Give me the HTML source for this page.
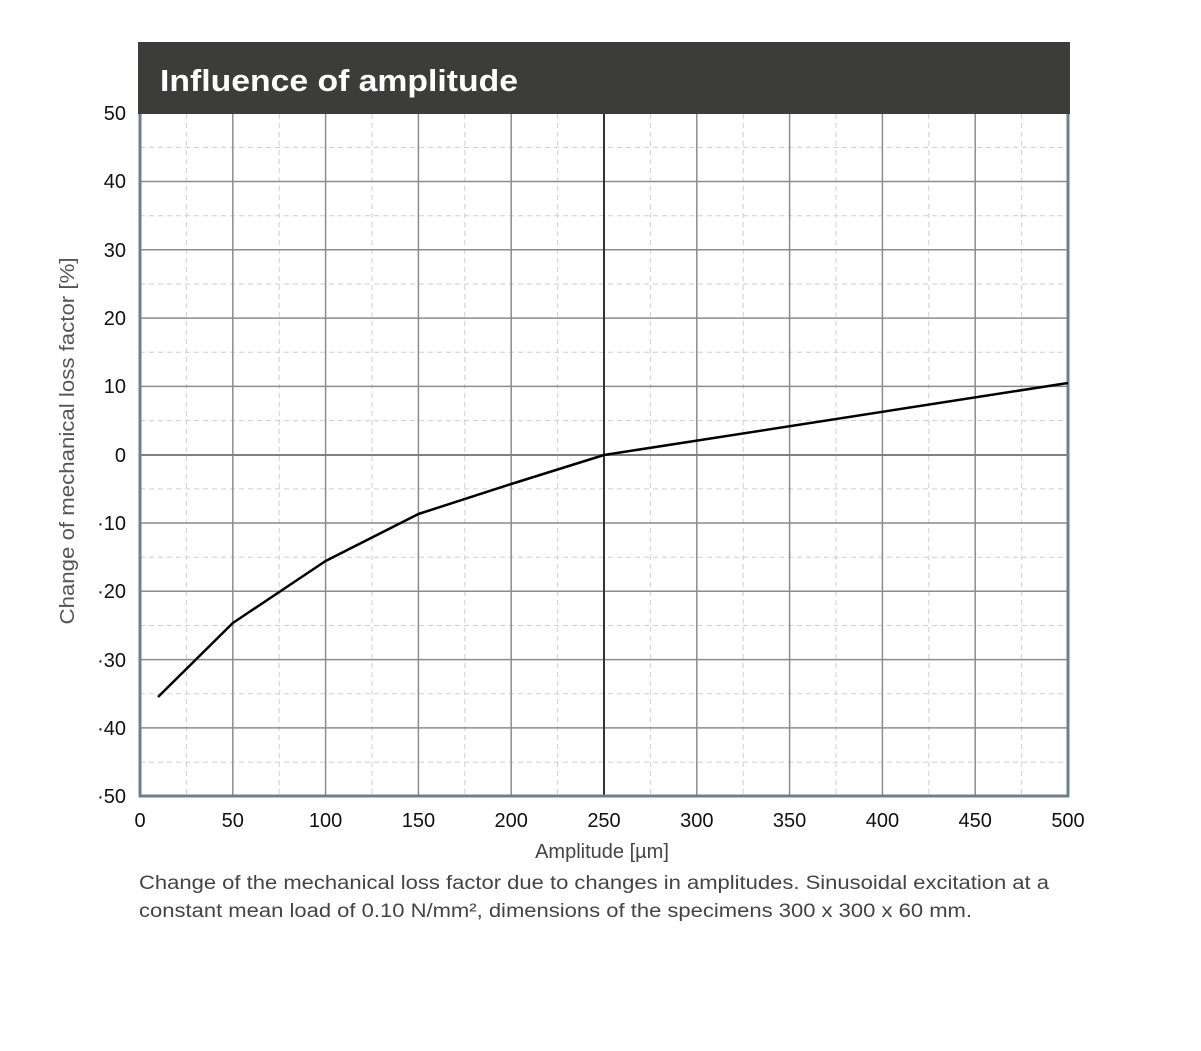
<!DOCTYPE html>
<html><head><meta charset="utf-8"><style>
html,body{margin:0;padding:0;background:#fff;}
svg{display:block;font-family:"Liberation Sans",sans-serif;}
</style></head><body>
<svg width="1201" height="1051" viewBox="0 0 1201 1051" xmlns="http://www.w3.org/2000/svg">
<rect x="138" y="42" width="932" height="72" fill="#3c3c3b"/>
<text x="160" y="91" font-size="31" font-weight="bold" fill="#fff" textLength="358" lengthAdjust="spacingAndGlyphs">Influence of amplitude</text>
<g stroke="#cfcfcf" stroke-width="1" stroke-dasharray="5,4">
<line x1="186.4" y1="114" x2="186.4" y2="796"/><line x1="279.2" y1="114" x2="279.2" y2="796"/><line x1="372" y1="114" x2="372" y2="796"/><line x1="464.8" y1="114" x2="464.8" y2="796"/><line x1="557.6" y1="114" x2="557.6" y2="796"/><line x1="650.4" y1="114" x2="650.4" y2="796"/><line x1="743.2" y1="114" x2="743.2" y2="796"/><line x1="836" y1="114" x2="836" y2="796"/><line x1="928.8" y1="114" x2="928.8" y2="796"/><line x1="1021.6" y1="114" x2="1021.6" y2="796"/>
<line x1="140" y1="147.4" x2="1068" y2="147.4"/><line x1="140" y1="215.7" x2="1068" y2="215.7"/><line x1="140" y1="284" x2="1068" y2="284"/><line x1="140" y1="352.3" x2="1068" y2="352.3"/><line x1="140" y1="420.6" x2="1068" y2="420.6"/><line x1="140" y1="488.9" x2="1068" y2="488.9"/><line x1="140" y1="557.2" x2="1068" y2="557.2"/><line x1="140" y1="625.5" x2="1068" y2="625.5"/><line x1="140" y1="693.8" x2="1068" y2="693.8"/><line x1="140" y1="762.1" x2="1068" y2="762.1"/>
</g>
<g stroke="#8c8c8c" stroke-width="1.5">
<line x1="232.8" y1="114" x2="232.8" y2="796"/><line x1="325.6" y1="114" x2="325.6" y2="796"/><line x1="418.4" y1="114" x2="418.4" y2="796"/><line x1="511.2" y1="114" x2="511.2" y2="796"/><line x1="696.8" y1="114" x2="696.8" y2="796"/><line x1="789.6" y1="114" x2="789.6" y2="796"/><line x1="882.4" y1="114" x2="882.4" y2="796"/><line x1="975.2" y1="114" x2="975.2" y2="796"/>
<line x1="140" y1="181.5" x2="1068" y2="181.5"/><line x1="140" y1="249.8" x2="1068" y2="249.8"/><line x1="140" y1="318.1" x2="1068" y2="318.1"/><line x1="140" y1="386.4" x2="1068" y2="386.4"/><line x1="140" y1="523" x2="1068" y2="523"/><line x1="140" y1="591.3" x2="1068" y2="591.3"/><line x1="140" y1="659.6" x2="1068" y2="659.6"/><line x1="140" y1="727.9" x2="1068" y2="727.9"/>
</g>
<line x1="140" y1="455" x2="1068" y2="455" stroke="#808080" stroke-width="2"/>
<line x1="604" y1="114" x2="604" y2="796" stroke="#333" stroke-width="2"/>
<line x1="140" y1="114" x2="140" y2="797" stroke="#6f808c" stroke-width="3"/>
<line x1="1068" y1="114" x2="1068" y2="797" stroke="#6f808c" stroke-width="3"/>
<line x1="139" y1="796" x2="1069" y2="796" stroke="#6f808c" stroke-width="3"/>
<polyline fill="none" stroke="#000" stroke-width="2.5" stroke-linejoin="round" points="158,697 232.8,623 325.6,561 418.4,514 511.2,484 604,455 1068,383"/>
<g font-size="20" fill="#111" text-anchor="end">
<text x="126" y="120">50</text><text x="126" y="188">40</text><text x="126" y="257">30</text><text x="126" y="325">20</text><text x="126" y="393">10</text><text x="126" y="462">0</text><text x="126" y="530">·10</text><text x="126" y="598">·20</text><text x="126" y="667">·30</text><text x="126" y="735">·40</text><text x="126" y="803">·50</text>
</g>
<g font-size="20" fill="#111" text-anchor="middle">
<text x="140" y="827">0</text><text x="232.8" y="827">50</text><text x="325.6" y="827">100</text><text x="418.4" y="827">150</text><text x="511.2" y="827">200</text><text x="604" y="827">250</text><text x="696.8" y="827">300</text><text x="789.6" y="827">350</text><text x="882.4" y="827">400</text><text x="975.2" y="827">450</text><text x="1068" y="827">500</text>
</g>
<text x="602" y="858" font-size="20" fill="#444" text-anchor="middle">Amplitude [µm]</text>
<text transform="translate(74,441) rotate(-90)" font-size="20" fill="#555" text-anchor="middle" textLength="367" lengthAdjust="spacingAndGlyphs">Change of mechanical  loss factor [%]</text>
<text x="139" y="889" font-size="19" fill="#444" textLength="910" lengthAdjust="spacingAndGlyphs">Change of the mechanical loss factor due to changes in amplitudes. Sinusoidal excitation at a</text>
<text x="139" y="917" font-size="19" fill="#444" textLength="833" lengthAdjust="spacingAndGlyphs">constant mean load of 0.10 N/mm², dimensions of the specimens 300 x 300 x 60 mm.</text>
</svg>
</body></html>
